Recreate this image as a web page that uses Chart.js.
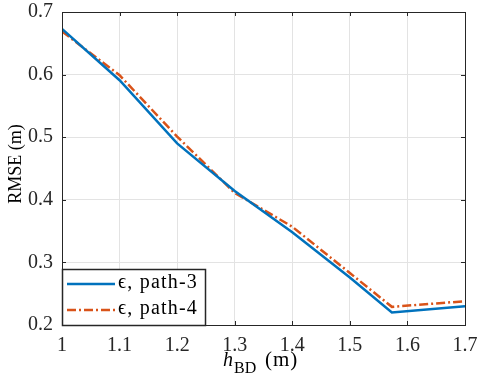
<!doctype html>
<html>
<head>
  <title>RMSE vs h_BD</title>
  <script src="https://cdn.jsdelivr.net/npm/chart.js@4.4.0/dist/chart.umd.min.js"></script>
  <style>
    html, body { margin: 0; padding: 0; background: #fff; }
    .chart { position: relative; width: 478px; height: 382px; }
  </style>
</head>
<body>
  <div class="chart">
    <canvas id="myChart"></canvas>
  </div>
  <script>
    // data
    var hBD = [1, 1.1, 1.2, 1.3, 1.4, 1.5, 1.573, 1.7];
    var path3 = [0.673, 0.591, 0.490, 0.414, 0.348, 0.276, 0.220, 0.230];
    var path4 = [0.669, 0.599, 0.501, 0.411, 0.357, 0.283, 0.229, 0.238];
    var seriesNames = ['\u03f5, path-3', '\u03f5, path-4'];
    var yTicks = [0.2, 0.3, 0.4, 0.5, 0.6, 0.7];
    var xTicks = [1, 1.1, 1.2, 1.3, 1.4, 1.5, 1.6, 1.7];

    var FONT = '"Liberation Serif", "DejaVu Serif", serif';
    var blue = '#0072BD';
    var orange = '#D95319';
    var axisColor = '#262626';
    var dashDot = [9, 3, 2, 3];

    function toPoints(xs, ys) {
      return xs.map(function(x, i) { return {x: x, y: ys[i]}; });
    }

    function fmt(v) {
      return String(Number(v.toFixed(1)));
    }

    function noPad(scale) {
      scale.paddingLeft = 0;
      scale.paddingRight = 0;
      scale.paddingTop = 0;
      scale.paddingBottom = 0;
    }

    // box, inner tick marks, axis titles and legend, MATLAB style
    var decorPlugin = {
      id: 'decor',
      afterDraw: function(chart) {
        var ctx = chart.ctx;
        var a = chart.chartArea;
        var xs = chart.scales.x, ys = chart.scales.y;
        ctx.save();

        // ticks inside box
        ctx.strokeStyle = axisColor;
        ctx.lineWidth = 1;
        ctx.beginPath();
        xTicks.forEach(function(t) {
          var px = Math.round(xs.getPixelForValue(t)) + 0.5;
          ctx.moveTo(px, a.bottom); ctx.lineTo(px, a.bottom - 4);
          ctx.moveTo(px, a.top); ctx.lineTo(px, a.top + 4);
        });
        yTicks.forEach(function(t) {
          var py = Math.round(ys.getPixelForValue(t)) + 0.5;
          ctx.moveTo(a.left, py); ctx.lineTo(a.left + 4, py);
          ctx.moveTo(a.right, py); ctx.lineTo(a.right - 4, py);
        });
        ctx.stroke();
        ctx.strokeRect(Math.round(a.left) + 0.5, Math.round(a.top) + 0.5,
          Math.round(a.right - a.left), Math.round(a.bottom - a.top));

        // x title: h_BD (m)
        ctx.fillStyle = '#000';
        ctx.textBaseline = 'alphabetic';
        ctx.textAlign = 'left';
        var x0 = 223;
        ctx.font = 'italic 20px ' + FONT;
        ctx.fillText('h', x0, 366);
        var wH = ctx.measureText('h').width;
        ctx.font = '16px ' + FONT;
        ctx.fillText('BD', x0 + wH + 1, 373);
        ctx.font = '21px ' + FONT;
        ctx.letterSpacing = '1px';
        ctx.fillText('(m)', 265, 366);
        ctx.letterSpacing = '0px';

        // y title
        ctx.save();
        ctx.translate(21, 164);
        ctx.rotate(-Math.PI / 2);
        ctx.textAlign = 'center';
        ctx.font = '18px ' + FONT;
        ctx.fillText('RMSE (m)', 0, 0);
        ctx.restore();

        // legend
        var lx = Math.round(a.left), ly = 269, lw = 143, lh = Math.round(a.bottom) - 269;
        ctx.fillStyle = '#fff';
        ctx.fillRect(lx, ly, lw, lh);
        ctx.strokeStyle = axisColor;
        ctx.lineWidth = 1.5;
        ctx.strokeRect(lx + 0.5, ly + 0.5, lw, lh);
        var rows = [
          {c: blue, dash: [], y: 284, t: seriesNames[0]},
          {c: orange, dash: dashDot, y: 310, t: seriesNames[1]}
        ];
        ctx.textBaseline = 'middle';
        rows.forEach(function(r) {
          ctx.strokeStyle = r.c;
          ctx.lineWidth = 2.5;
          ctx.setLineDash(r.dash);
          ctx.beginPath();
          ctx.moveTo(lx + 5, r.y); ctx.lineTo(lx + 53, r.y);
          ctx.stroke();
          ctx.setLineDash([]);
          ctx.fillStyle = '#000';
          ctx.font = '20px ' + FONT;
          ctx.letterSpacing = '1.2px';
          ctx.fillText(r.t, lx + 56, r.y - 1);
          ctx.letterSpacing = '0px';
        });
        ctx.restore();
      }
    };

    var config = {
      type: 'line',
      data: {
        datasets: [{
          label: seriesNames[0],
          data: toPoints(hBD, path3),
          borderColor: blue,
          borderWidth: 2.5,
          pointRadius: 0,
          fill: false
        }, {
          label: seriesNames[1],
          data: toPoints(hBD, path4),
          borderColor: orange,
          borderWidth: 2.5,
          borderDash: dashDot,
          pointRadius: 0,
          fill: false
        }]
      },
      options: {
        responsive: false,
        animation: false,
        layout: { padding: { top: 12, right: 13, left: 0, bottom: 0 } },
        plugins: {
          legend: { display: false },
          tooltip: { enabled: false }
        },
        scales: {
          x: {
            type: 'linear',
            min: 1,
            max: 1.7,
            afterBuildTicks: function(scale) {
              scale.ticks = xTicks.map(function(v) { return {value: v}; });
            },
            afterFit: function(scale) { scale.height = 57; noPad(scale); },
            grid: { color: '#e3e3e3', drawTicks: false },
            border: { display: false },
            ticks: {
              color: '#262626',
              padding: 9,
              maxRotation: 0,
              font: { family: FONT, size: 20 },
              callback: function(v) { return fmt(v); }
            }
          },
          y: {
            type: 'linear',
            min: 0.2,
            max: 0.7,
            afterBuildTicks: function(scale) {
              scale.ticks = yTicks.map(function(v) { return {value: v}; });
            },
            afterFit: function(scale) { scale.width = 62; noPad(scale); },
            grid: { color: '#e3e3e3', drawTicks: false },
            border: { display: false },
            ticks: {
              color: '#262626',
              padding: 9,
              font: { family: FONT, size: 20 },
              callback: function(v) { return fmt(v); }
            }
          }
        }
      },
      plugins: [decorPlugin]
    };

    var canvas = document.getElementById('myChart');
    canvas.width = 478;
    canvas.height = 382;
    window.myChart = new Chart(canvas.getContext('2d'), config);
  </script>
</body>
</html>
